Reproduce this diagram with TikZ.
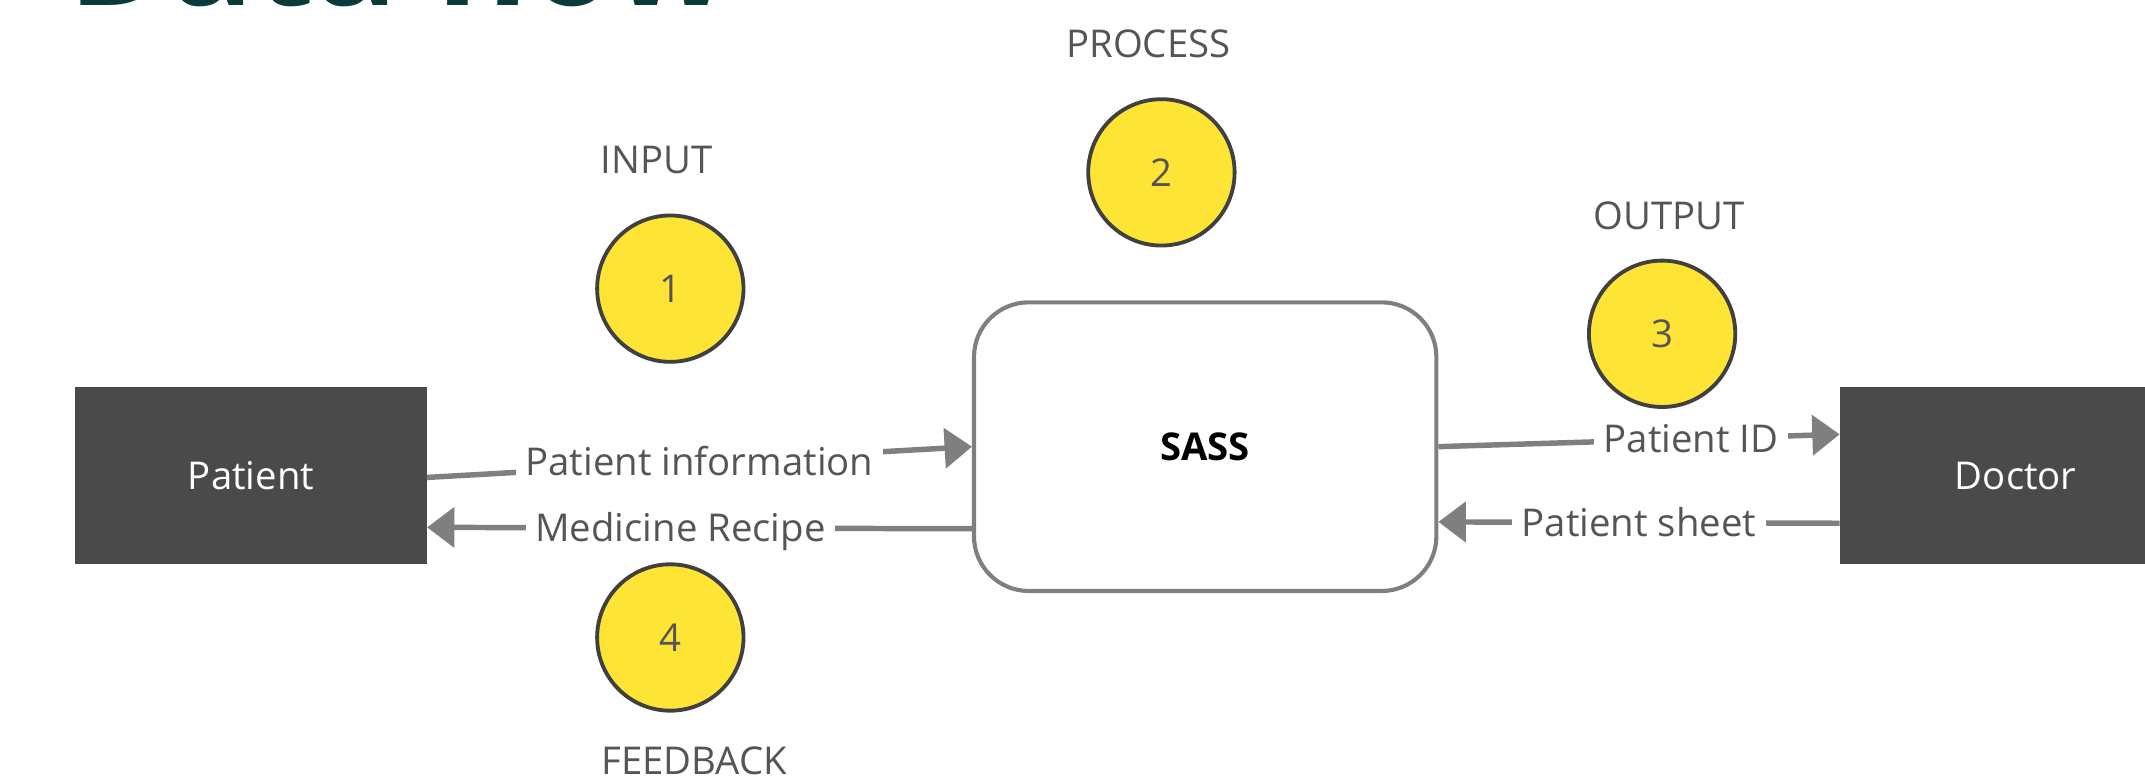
\documentclass[tikz,border=0pt]{standalone}
\usepackage{fontspec}
\setmainfont{Open Sans}
\usetikzlibrary{arrows.meta}
\definecolor{boxgray}{HTML}{4A4A4A}
\definecolor{linegray}{HTML}{7F7F7F}
\definecolor{txtgray}{HTML}{555555}
\definecolor{yel}{HTML}{FEE434}
\definecolor{circedge}{HTML}{404040}
\definecolor{titleteal}{HTML}{0B3A3B}
\begin{document}
\begin{tikzpicture}[x=1pt,y=-1pt,
  every node/.style={font=\fontsize{28}{34}\selectfont},
  entity/.style={fill=boxgray, text=white, minimum width=257pt, minimum height=129pt, inner sep=0pt, text height=22pt, text depth=2pt},
  proc/.style={draw=linegray, line width=3pt, rounded corners=40pt, fill=white, minimum width=338pt, minimum height=211pt, text=black, font=\fontsize{28}{34}\selectfont\bfseries},
  stepcirc/.style={circle, draw=circedge, fill=yel, line width=2.8pt, minimum size=107pt, inner sep=0pt, text=txtgray},
  caption/.style={text=txtgray, anchor=base, inner sep=0pt},
  flow/.style={draw=linegray, line width=4pt, -{Triangle[length=20pt,width=29pt]}},
  flowlabel/.style={fill=white, text=txtgray, inner xsep=7pt, inner ysep=1pt, text height=24pt, text depth=4pt}
]
\useasboundingbox (0,0) rectangle (1568,570);
\begin{scope}
  \clip (0,0) rectangle (1568,570);
  \node[anchor=base west, text=titleteal, inner sep=0pt, font=\fontsize{101}{115}\selectfont\bfseries] (title) at (50,4) {Data flow};
  % boxes
  \node[entity] (patient) at (183.5,347.5) {Patient};
  \node[entity] (doctor) at (1473.5,347.5) {Doctor};
\end{scope}
\node[proc] (sass) at (881,326.5) {SASS};

% circles
\node[stepcirc] (c1) at (490,211) {1};
\node[stepcirc] (c2) at (849,126) {2};
\node[stepcirc] (c3) at (1215,244) {3};
\node[stepcirc] (c4) at (490,466) {4};

% captions
\node[caption] (inp) at (480,127) {INPUT};
\node[caption] (proc) at (839.5,42) {PROCESS};
\node[caption] (outp) at (1220,168) {OUTPUT};
\node[caption] (feed) at (507.5,566) {FEEDBACK};

% flows
\draw[flow] ([yshift=-1.5pt]patient.east) -- node[flowlabel, pos=0.5] {Patient information} (sass.west);
\draw[flow] ([yshift=-60pt]sass.west) -- node[flowlabel, pos=0.535] {Medicine Recipe} ([yshift=-38pt]patient.east);
\draw[flow] (sass.east) -- node[flowlabel, pos=0.63] {Patient ID} ([yshift=30pt]doctor.west);
\draw[flow] ([yshift=-35pt]doctor.west) -- node[flowlabel, pos=0.5] {Patient sheet} ([yshift=-55pt]sass.east);
\end{tikzpicture}
\end{document}
